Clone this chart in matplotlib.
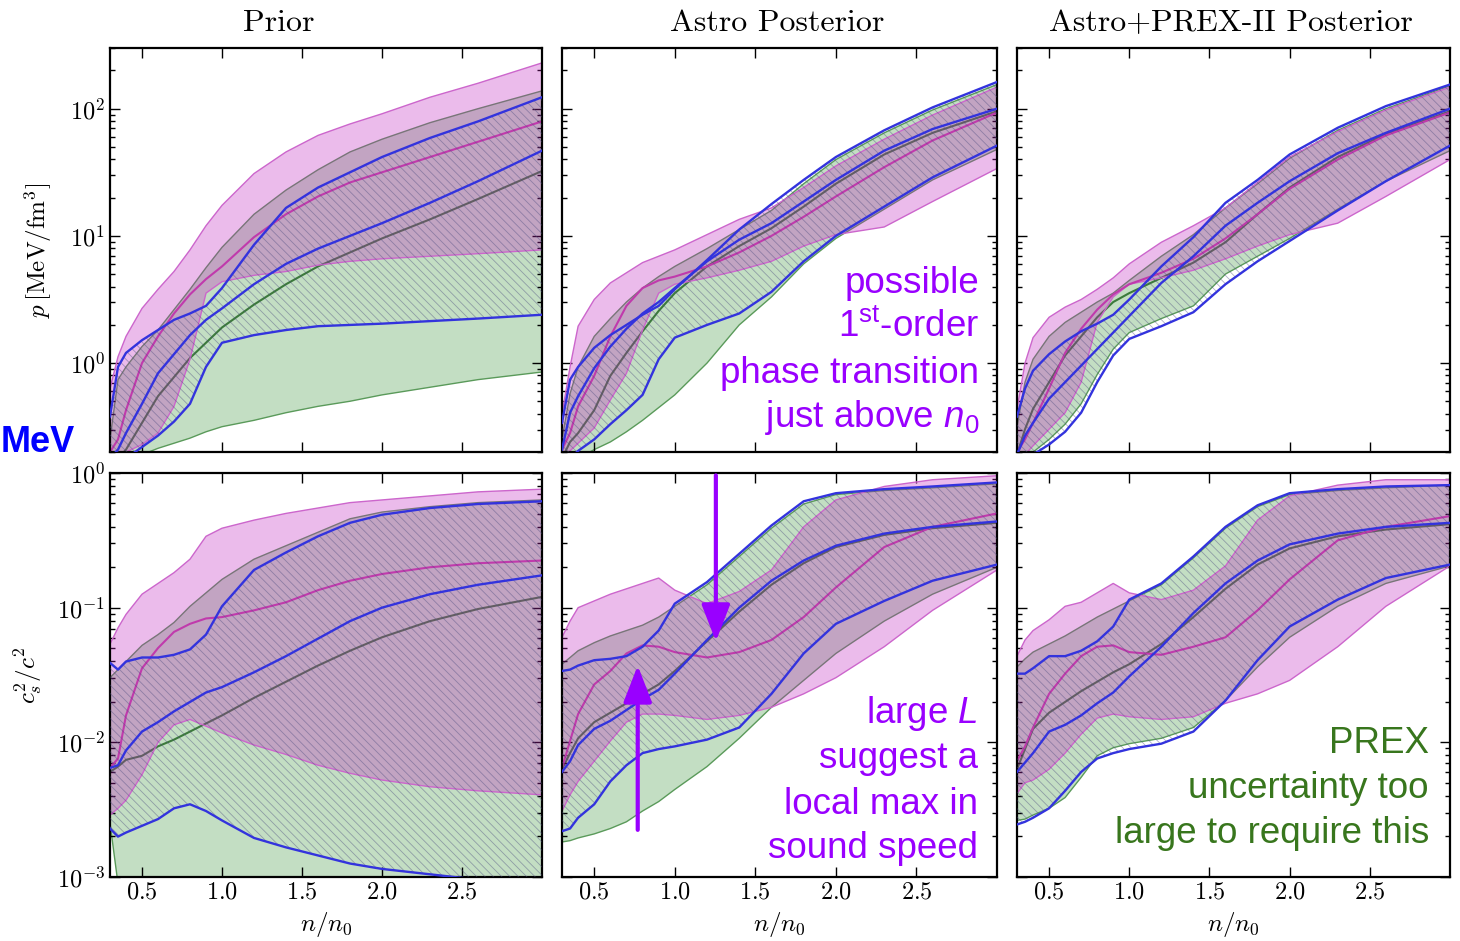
import numpy as np
import matplotlib
matplotlib.use('Agg')
import matplotlib.pyplot as plt
from matplotlib import rcParams
from matplotlib.ticker import LogLocator, NullFormatter

# Computer Modern look for axes, Arial-like for the slide notes
rcParams['font.family'] = 'cmr10'
rcParams['mathtext.fontset'] = 'cm'
rcParams['axes.unicode_minus'] = False
rcParams['axes.formatter.use_mathtext'] = True
rcParams['mathtext.rm'] = 'Liberation Sans'
rcParams['mathtext.it'] = 'Liberation Sans:italic'
rcParams['mathtext.bf'] = 'Liberation Sans:bold'
rcParams['hatch.linewidth'] = 0.6

W, H = 1460, 941

# density grid n/n0
n_grid = [0.3, 0.35, 0.4, 0.5, 0.6, 0.7, 0.8, 0.9, 1.0, 1.2, 1.4, 1.6, 1.8, 2.0, 2.3, 2.6, 3.0]

# values below are log10 of p [MeV/fm^3] (top row) and log10 of c_s^2/c^2 (bottom row)
# --- Prior, pressure
prior_p_pink_hi = [-0.2, 0.05, 0.21, 0.43, 0.58, 0.72, 0.89, 1.08, 1.24, 1.49, 1.66, 1.79, 1.88, 1.96, 2.09, 2.20, 2.36]
prior_p_pink_med = [-0.7, -0.6, -0.37, 0.0, 0.21, 0.39, 0.54, 0.66, 0.76, 0.99, 1.17, 1.31, 1.42, 1.5, 1.62, 1.74, 1.9]
prior_p_pink_lo = [-0.75, -0.72, -0.7, -0.64, -0.55, -0.34, 0.03, 0.55, 0.64, 0.69, 0.72, 0.77, 0.8, 0.82, 0.84, 0.86, 0.89]
prior_p_green_hi = [-0.6, -0.13, -0.03, 0.13, 0.26, 0.42, 0.58, 0.75, 0.91, 1.17, 1.36, 1.52, 1.66, 1.76, 1.89, 2.0, 2.14]
prior_p_green_med = [-0.8, -0.75, -0.68, -0.47, -0.26, -0.11, 0.04, 0.16, 0.28, 0.46, 0.62, 0.76, 0.87, 0.98, 1.13, 1.29, 1.51]
prior_p_green_lo = [-0.8, -0.78, -0.76, -0.72, -0.67, -0.63, -0.59, -0.54, -0.5, -0.45, -0.39, -0.34, -0.3, -0.25, -0.19, -0.13, -0.07]
prior_p_blue_hi = [-0.42, -0.03, 0.08, 0.18, 0.26, 0.34, 0.39, 0.45, 0.59, 0.93, 1.22, 1.38, 1.5, 1.62, 1.77, 1.9, 2.09]
prior_p_blue_med = [-0.75, -0.68, -0.55, -0.32, -0.08, 0.07, 0.22, 0.34, 0.43, 0.62, 0.78, 0.9, 1.0, 1.1, 1.26, 1.43, 1.67]
prior_p_blue_lo = [-0.85, -0.8, -0.75, -0.66, -0.57, -0.46, -0.32, -0.03, 0.16, 0.22, 0.26, 0.29, 0.3, 0.31, 0.33, 0.35, 0.38]

# --- Astro posterior, pressure
astro_p_pink_hi = [-0.4, -0.03, 0.29, 0.5, 0.63, 0.71, 0.79, 0.84, 0.89, 1.01, 1.13, 1.22, 1.38, 1.55, 1.76, 1.95, 2.17]
astro_p_pink_med = [-0.68, -0.55, -0.34, -0.1, 0.21, 0.45, 0.59, 0.65, 0.68, 0.76, 0.87, 1.0, 1.15, 1.31, 1.54, 1.75, 1.97]
astro_p_pink_lo = [-0.75, -0.69, -0.63, -0.51, -0.29, -0.08, 0.26, 0.55, 0.62, 0.67, 0.73, 0.8, 0.92, 1.01, 1.07, 1.27, 1.53]
astro_p_green_hi = [-0.6, -0.24, -0.03, 0.21, 0.35, 0.48, 0.59, 0.68, 0.76, 0.9, 1.05, 1.2, 1.41, 1.6, 1.81, 1.99, 2.19]
astro_p_green_med = [-0.75, -0.62, -0.55, -0.37, -0.1, 0.08, 0.25, 0.41, 0.55, 0.76, 0.92, 1.06, 1.23, 1.41, 1.64, 1.81, 1.98]
astro_p_green_lo = [-0.8, -0.78, -0.75, -0.68, -0.62, -0.54, -0.45, -0.35, -0.25, 0.0, 0.3, 0.52, 0.78, 0.98, 1.21, 1.44, 1.68]
astro_p_blue_hi = [-0.47, -0.13, -0.03, 0.12, 0.22, 0.3, 0.38, 0.45, 0.58, 0.81, 1.05, 1.25, 1.44, 1.62, 1.83, 2.01, 2.21]
astro_p_blue_med = [-0.68, -0.39, -0.26, -0.04, 0.13, 0.27, 0.39, 0.48, 0.59, 0.8, 0.97, 1.1, 1.27, 1.44, 1.67, 1.84, 2.0]
astro_p_blue_lo = [-0.8, -0.75, -0.69, -0.6, -0.48, -0.37, -0.25, 0.03, 0.2, 0.3, 0.39, 0.56, 0.8, 1.0, 1.23, 1.46, 1.71]

# --- Astro+PREX-II posterior, pressure
prex_p_pink_hi = [-0.36, 0.0, 0.2, 0.36, 0.44, 0.5, 0.58, 0.67, 0.78, 0.95, 1.08, 1.22, 1.42, 1.62, 1.82, 1.99, 2.17]
prex_p_pink_med = [-0.7, -0.6, -0.47, -0.2, 0.08, 0.27, 0.42, 0.54, 0.62, 0.71, 0.82, 0.98, 1.17, 1.37, 1.6, 1.79, 1.97]
prex_p_pink_lo = [-0.75, -0.72, -0.65, -0.52, -0.39, -0.15, 0.32, 0.52, 0.62, 0.67, 0.73, 0.82, 0.92, 1.01, 1.1, 1.31, 1.6]
prex_p_green_hi = [-0.5, -0.15, 0.03, 0.21, 0.32, 0.4, 0.48, 0.55, 0.65, 0.84, 1.01, 1.22, 1.41, 1.61, 1.83, 2.0, 2.18]
prex_p_green_med = [-0.72, -0.52, -0.36, -0.15, 0.06, 0.21, 0.36, 0.48, 0.55, 0.67, 0.79, 0.95, 1.17, 1.38, 1.62, 1.8, 1.98]
prex_p_green_lo = [-0.83, -0.78, -0.7, -0.6, -0.48, -0.32, -0.09, 0.11, 0.24, 0.35, 0.45, 0.7, 0.84, 0.98, 1.21, 1.43, 1.67]
prex_p_blue_hi = [-0.42, -0.2, -0.06, 0.07, 0.17, 0.25, 0.31, 0.38, 0.5, 0.76, 0.99, 1.26, 1.44, 1.64, 1.85, 2.02, 2.19]
prex_p_blue_med = [-0.72, -0.57, -0.47, -0.28, -0.15, -0.02, 0.11, 0.24, 0.37, 0.63, 0.84, 1.08, 1.26, 1.43, 1.65, 1.81, 2.0]
prex_p_blue_lo = [-0.85, -0.8, -0.72, -0.64, -0.54, -0.39, -0.15, 0.06, 0.19, 0.29, 0.4, 0.62, 0.8, 0.96, 1.2, 1.43, 1.71]

# --- Prior, sound speed
prior_cs_pink_hi = [-1.27, -1.15, -1.05, -0.9, -0.82, -0.74, -0.64, -0.47, -0.41, -0.35, -0.3, -0.26, -0.22, -0.2, -0.17, -0.14, -0.12]
prior_cs_pink_med = [-2.19, -2.12, -1.8, -1.45, -1.3, -1.18, -1.12, -1.08, -1.07, -1.02, -0.96, -0.87, -0.8, -0.75, -0.7, -0.67, -0.65]
prior_cs_pink_lo = [-2.54, -2.49, -2.43, -2.24, -2.0, -1.87, -1.83, -1.88, -1.93, -2.02, -2.09, -2.17, -2.23, -2.28, -2.33, -2.36, -2.39]
prior_cs_green_hi = [-1.52, -1.46, -1.4, -1.28, -1.2, -1.11, -0.99, -0.89, -0.79, -0.64, -0.54, -0.44, -0.34, -0.29, -0.25, -0.22, -0.2]
prior_cs_green_med = [-2.22, -2.18, -2.13, -2.1, -2.03, -1.98, -1.92, -1.86, -1.8, -1.67, -1.55, -1.43, -1.32, -1.22, -1.1, -1.01, -0.92]
prior_cs_green_lo = [-2.6, -3.05, -3.3, -3.3, -3.3, -3.3, -3.3, -3.3, -3.3, -3.3, -3.3, -3.3, -3.3, -3.3, -3.3, -3.3, -3.3]
prior_cs_blue_hi = [-1.41, -1.46, -1.4, -1.37, -1.37, -1.35, -1.31, -1.2, -0.99, -0.72, -0.59, -0.47, -0.37, -0.31, -0.26, -0.23, -0.21]
prior_cs_blue_med = [-2.19, -2.17, -2.06, -1.92, -1.85, -1.77, -1.7, -1.63, -1.59, -1.48, -1.36, -1.23, -1.1, -1.0, -0.9, -0.83, -0.76]
prior_cs_blue_lo = [-2.64, -2.7, -2.67, -2.62, -2.57, -2.49, -2.46, -2.51, -2.58, -2.71, -2.78, -2.84, -2.9, -2.94, -2.98, -3.02, -3.08]

# --- Astro posterior, sound speed
astro_cs_pink_hi = [-1.22, -1.1, -1.0, -0.95, -0.9, -0.86, -0.82, -0.78, -0.87, -0.97, -0.88, -0.72, -0.4, -0.2, -0.1, -0.05, -0.02]
astro_cs_pink_med = [-2.19, -1.99, -1.79, -1.57, -1.47, -1.34, -1.28, -1.29, -1.33, -1.37, -1.33, -1.24, -1.07, -0.85, -0.55, -0.4, -0.3]
astro_cs_pink_lo = [-2.51, -2.39, -2.29, -2.14, -1.99, -1.85, -1.79, -1.79, -1.8, -1.83, -1.8, -1.74, -1.64, -1.52, -1.29, -1.02, -0.72]
astro_cs_green_hi = [-1.42, -1.37, -1.32, -1.26, -1.21, -1.17, -1.13, -1.07, -0.99, -0.83, -0.62, -0.41, -0.23, -0.16, -0.13, -0.11, -0.08]
astro_cs_green_med = [-2.2, -2.08, -1.97, -1.85, -1.78, -1.71, -1.64, -1.57, -1.47, -1.25, -1.03, -0.83, -0.67, -0.55, -0.46, -0.41, -0.37]
astro_cs_green_lo = [-2.74, -2.73, -2.71, -2.68, -2.64, -2.59, -2.51, -2.44, -2.35, -2.18, -1.97, -1.74, -1.54, -1.34, -1.1, -0.9, -0.7]
astro_cs_blue_hi = [-1.47, -1.46, -1.43, -1.39, -1.38, -1.36, -1.29, -1.17, -0.97, -0.81, -0.6, -0.39, -0.21, -0.15, -0.12, -0.1, -0.07]
astro_cs_blue_med = [-2.22, -2.14, -2.02, -1.9, -1.84, -1.76, -1.68, -1.61, -1.49, -1.24, -1.0, -0.8, -0.65, -0.54, -0.45, -0.4, -0.36]
astro_cs_blue_lo = [-2.66, -2.64, -2.56, -2.46, -2.29, -2.17, -2.08, -2.05, -2.03, -1.98, -1.89, -1.64, -1.34, -1.12, -0.95, -0.8, -0.68]

# --- Astro+PREX-II posterior, sound speed
prex_cs_pink_hi = [-1.36, -1.24, -1.17, -1.09, -0.99, -0.96, -0.89, -0.82, -0.89, -0.94, -0.87, -0.69, -0.35, -0.17, -0.09, -0.05, -0.05]
prex_cs_pink_med = [-2.14, -2.03, -1.89, -1.64, -1.49, -1.36, -1.29, -1.28, -1.33, -1.35, -1.29, -1.22, -1.02, -0.79, -0.5, -0.4, -0.32]
prex_cs_pink_lo = [-2.38, -2.3, -2.28, -2.2, -2.08, -1.94, -1.82, -1.79, -1.81, -1.83, -1.81, -1.71, -1.64, -1.54, -1.29, -0.99, -0.69]
prex_cs_green_hi = [-1.44, -1.38, -1.33, -1.27, -1.21, -1.14, -1.07, -1.01, -0.95, -0.83, -0.63, -0.41, -0.25, -0.16, -0.13, -0.11, -0.09]
prex_cs_green_med = [-2.2, -2.05, -1.9, -1.78, -1.7, -1.62, -1.55, -1.48, -1.42, -1.27, -1.07, -0.86, -0.68, -0.56, -0.47, -0.42, -0.38]
prex_cs_green_lo = [-2.58, -2.57, -2.54, -2.49, -2.41, -2.26, -2.1, -2.04, -2.01, -1.97, -1.89, -1.69, -1.44, -1.22, -0.99, -0.82, -0.69]
prex_cs_blue_hi = [-1.49, -1.49, -1.45, -1.36, -1.36, -1.32, -1.25, -1.14, -0.94, -0.82, -0.62, -0.4, -0.24, -0.15, -0.12, -0.1, -0.09]
prex_cs_blue_med = [-2.22, -2.15, -2.08, -1.92, -1.87, -1.8, -1.71, -1.63, -1.51, -1.29, -1.04, -0.82, -0.65, -0.53, -0.45, -0.4, -0.37]
prex_cs_blue_lo = [-2.61, -2.59, -2.56, -2.49, -2.36, -2.22, -2.12, -2.08, -2.05, -2.01, -1.92, -1.69, -1.39, -1.14, -0.94, -0.78, -0.68]

titles = ['Prior', 'Astro Posterior', 'Astro+PREX-II Posterior']
title_x = [0.39, 0.495, 0.495]

notes_astro_p = ['possible', r'1$^{\mathrm{st}}$-order', 'phase transition', r'just above $n_0$']
notes_astro_cs = [r'large $L$', 'suggest a', 'local max in', 'sound speed']
notes_prex_cs = ['PREX', 'uncertainty too', 'large to require this']

# colours
pink_fill = '#c020c0'
pink_edge = '#cc66cc'
pink_line = '#c03aac'
green_fill = '#2a8a2a'
green_edge = '#5a9a5a'
green_line = '#3c7a3c'
blue_line = '#3333dd'
hatch_col = (0.3, 0.3, 0.5, 0.45)
purple = '#9900ff'
dkgreen = '#38761d'


def band(vals):
    return [10 ** np.array(v) for v in vals]


def draw_panel(ax, pink, green, blue):
    n = np.array(n_grid)
    pl, pm, pu = band(pink)
    gl, gm, gu = band(green)
    bl, bm, bu = band(blue)

    ax.fill_between(n, gl, gu, facecolor=green_fill, edgecolor='none', alpha=0.28, zorder=1)
    ax.plot(n, gl, color=green_edge, lw=1.0, zorder=1.1)
    ax.plot(n, gu, color=green_edge, lw=1.0, zorder=1.1)
    ax.plot(n, gm, color=green_line, lw=1.5, zorder=1.2)

    ax.fill_between(n, pl, pu, facecolor=pink_fill, edgecolor='none', alpha=0.3, zorder=2)
    ax.plot(n, pl, color=pink_edge, lw=1.0, zorder=2.1)
    ax.plot(n, pu, color=pink_edge, lw=1.0, zorder=2.1)
    ax.plot(n, pm, color=pink_line, lw=1.5, zorder=2.2)

    ax.fill_between(n, bl, bu, facecolor='none', edgecolor=hatch_col, hatch='\\' * 4,
                    lw=0, zorder=3)
    for v in (bl, bm, bu):
        ax.plot(n, v, color=blue_line, lw=1.7, zorder=4)


def style_axes(ax, ylim):
    ax.set_yscale('log')
    ax.set_xlim(0.3, 3.0)
    ax.set_ylim(*ylim)
    ax.set_xticks([0.5, 1.0, 1.5, 2.0, 2.5])
    ax.yaxis.set_minor_locator(LogLocator(base=10, subs=np.arange(2, 10)))
    ax.yaxis.set_minor_formatter(NullFormatter())
    ax.tick_params(which='both', direction='in', top=True, right=True,
                   labelsize=17.5, width=1.0)
    ax.tick_params(which='major', length=7)
    ax.tick_params(which='minor', length=3.5)
    for s in ax.spines.values():
        s.set_linewidth(1.6)


fig = plt.figure(figsize=(W / 100, H / 100), dpi=100)

col_left = [110, 562, 1017]
col_width = [432, 435, 433]
row_top = [48, 473]
row_h = 404

data = [
    [(prior_p_pink_lo, prior_p_pink_med, prior_p_pink_hi),
     (prior_p_green_lo, prior_p_green_med, prior_p_green_hi),
     (prior_p_blue_lo, prior_p_blue_med, prior_p_blue_hi)],
    [(astro_p_pink_lo, astro_p_pink_med, astro_p_pink_hi),
     (astro_p_green_lo, astro_p_green_med, astro_p_green_hi),
     (astro_p_blue_lo, astro_p_blue_med, astro_p_blue_hi)],
    [(prex_p_pink_lo, prex_p_pink_med, prex_p_pink_hi),
     (prex_p_green_lo, prex_p_green_med, prex_p_green_hi),
     (prex_p_blue_lo, prex_p_blue_med, prex_p_blue_hi)],
    [(prior_cs_pink_lo, prior_cs_pink_med, prior_cs_pink_hi),
     (prior_cs_green_lo, prior_cs_green_med, prior_cs_green_hi),
     (prior_cs_blue_lo, prior_cs_blue_med, prior_cs_blue_hi)],
    [(astro_cs_pink_lo, astro_cs_pink_med, astro_cs_pink_hi),
     (astro_cs_green_lo, astro_cs_green_med, astro_cs_green_hi),
     (astro_cs_blue_lo, astro_cs_blue_med, astro_cs_blue_hi)],
    [(prex_cs_pink_lo, prex_cs_pink_med, prex_cs_pink_hi),
     (prex_cs_green_lo, prex_cs_green_med, prex_cs_green_hi),
     (prex_cs_blue_lo, prex_cs_blue_med, prex_cs_blue_hi)],
]

axes = {}
for r in range(2):
    for c in range(3):
        rect = [col_left[c] / W, 1 - (row_top[r] + row_h) / H, col_width[c] / W, row_h / H]
        ax = fig.add_axes(rect)
        pink, green, blue = data[r * 3 + c]
        draw_panel(ax, pink, green, blue)
        style_axes(ax, (0.2, 300) if r == 0 else (1e-3, 1.0))
        if r == 0:
            ax.set_title(titles[c], fontsize=23, x=title_x[c], pad=12)
            ax.tick_params(labelbottom=False)
        else:
            ax.set_xlabel(r'$n/n_0$', fontsize=18, labelpad=4)
        if c > 0:
            ax.tick_params(labelleft=False)
        axes[(r, c)] = ax

axes[(0, 0)].set_ylabel(r'$p\,[\mathrm{MeV/fm^3}]$', fontsize=18)
axes[(0, 0)].yaxis.set_label_coords(-0.13, 0.5)
axes[(1, 0)].set_ylabel(r'$c_s^2/c^2$', fontsize=18)
axes[(1, 0)].yaxis.set_label_coords(-0.15, 0.5)

# arrows pointing at the local max in the sound speed
ax = axes[(1, 1)]
arrow_x = [1.255, 0.77]
arrow_tail = [0.96, 10 ** -2.65]
arrow_tip = [10 ** -1.25, 10 ** -1.43]
for x, y0, y1 in zip(arrow_x, arrow_tail, arrow_tip):
    ax.annotate('', xy=(x, y1), xytext=(x, y0),
                arrowprops=dict(arrowstyle='-|>,head_length=0.9,head_width=0.35',
                                color=purple, lw=3, mutation_scale=25,
                                shrinkA=0, shrinkB=0), zorder=6)

# slide annotations
note_kw = dict(ha='right', va='baseline', fontsize=26.5, family='Liberation Sans',
               math_fontfamily='custom')
for txt, yb in zip(notes_astro_p, [293, 337, 383, 427]):
    fig.text(979 / W, 1 - yb / H, txt, color=purple, **note_kw)
for txt, yb in zip(notes_astro_cs, [723, 768, 814, 858]):
    fig.text(978 / W, 1 - yb / H, txt, color=purple, **note_kw)
for txt, yb in zip(notes_prex_cs, [753, 798, 843]):
    fig.text(1429 / W, 1 - yb / H, txt, color=dkgreen, **note_kw)

fig.text(1 / W, 1 - 452 / H, 'MeV', ha='left', va='baseline', fontsize=26,
         fontweight='bold', family='Liberation Sans', color='#0000ff')

fig.savefig('out.png', dpi=100)
